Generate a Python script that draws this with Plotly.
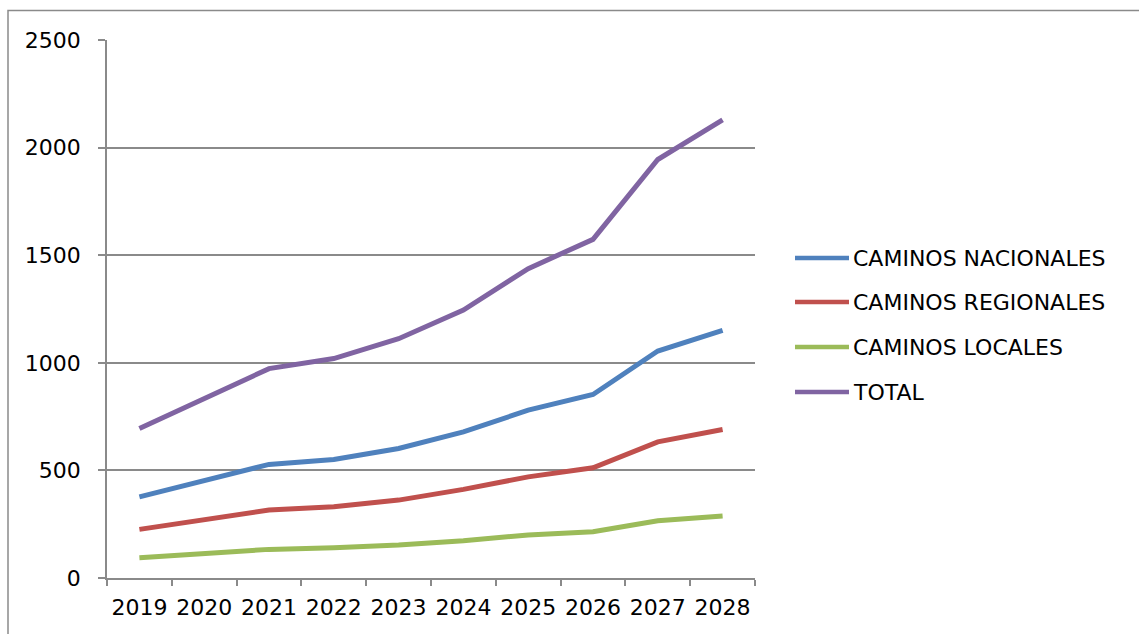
import plotly.graph_objects as go

# Road network data by year
years = ["2019", "2020", "2021", "2022", "2023", "2024", "2025", "2026", "2027", "2028"]
nacionales = [377, 452, 528, 551, 602, 679, 780, 853, 1055, 1151]
regionales = [226, 271, 316, 331, 362, 412, 470, 512, 633, 690]
locales = [94, 114, 133, 141, 153, 173, 200, 215, 266, 288]
total = [695, 834, 973, 1020, 1112, 1245, 1438, 1574, 1945, 2129]

series_names = ["CAMINOS NACIONALES", "CAMINOS REGIONALES", "CAMINOS LOCALES", "TOTAL"]
series_values = [nacionales, regionales, locales, total]
series_colors = ["#4F81BD", "#C0504D", "#9BBB59", "#8064A2"]

y_ticks = [0, 500, 1000, 1500, 2000, 2500]

W, H = 1139, 634
L, R, T, B = 107, 755, 40, 578  # plot area in pixels
FONT = "DejaVu Sans"
FSIZE = 22
GRID = "#8a8a8a"


def px_x(p):
    return (p - L) / (R - L)


def px_y(p):
    return (B - p) / (B - T)


fig = go.Figure()
for name, vals, col in zip(series_names, series_values, series_colors):
    fig.add_trace(go.Scatter(
        x=years, y=vals, name=name, mode="lines",
        line=dict(color=col, width=5),
        showlegend=False,
    ))

shapes = [
    # outer chart frame
    dict(type="rect", xref="paper", yref="paper",
         x0=px_x(8), x1=px_x(W + 20), y0=px_y(H + 20), y1=px_y(10.5),
         line=dict(color=GRID, width=1.5), fillcolor="rgba(0,0,0,0)", layer="below"),
]
annotations = []
legend_rows = [258, 302, 347, 392]
for name, col, ry in zip(series_names, series_colors, legend_rows):
    shapes.append(dict(type="line", xref="paper", yref="paper",
                       x0=px_x(795), x1=px_x(849), y0=px_y(ry), y1=px_y(ry),
                       line=dict(color=col, width=4.5)))
    annotations.append(dict(xref="paper", yref="paper", x=px_x(851), y=px_y(ry),
                            text=name, showarrow=False, xanchor="left", yanchor="middle",
                            font=dict(family=FONT, size=FSIZE, color="#000000")))

fig.update_layout(
    width=W, height=H,
    margin=dict(l=L, r=W - R, t=T, b=H - B, autoexpand=False),
    paper_bgcolor="white", plot_bgcolor="white",
    font=dict(family=FONT, size=FSIZE, color="#000000"),
    shapes=shapes, annotations=annotations,
    xaxis=dict(
        type="category", tickson="boundaries", tickangle=0, automargin=False,
        showgrid=False, showline=True, linecolor=GRID, linewidth=1.5,
        ticks="outside", ticklen=6, tickcolor=GRID, tickwidth=1.5,
        ticklabelstandoff=9,
        tickfont=dict(family=FONT, size=FSIZE, color="#000000"),
        range=[-0.5, 9.5],
    ),
    yaxis=dict(
        range=[0, 2500.5], tickvals=y_ticks, automargin=False,
        showgrid=True, gridcolor=GRID, gridwidth=1.5,
        showline=True, linecolor=GRID, linewidth=1.5,
        ticks="outside", ticklen=7, tickcolor=GRID, tickwidth=1.5,
        ticklabelstandoff=13, zeroline=False,
        tickfont=dict(family=FONT, size=FSIZE, color="#000000"),
    ),
)

fig.write_html("out.html")
